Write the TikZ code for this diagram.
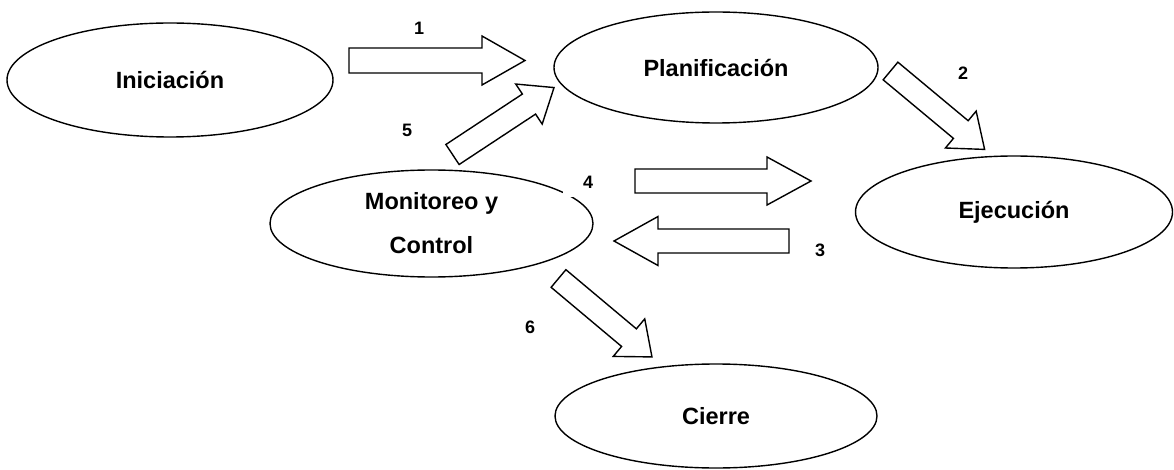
\documentclass[tikz,border=0pt]{standalone}
\usepackage{fontspec}
\setmainfont{Liberation Sans}
\usetikzlibrary{shapes.geometric}
% block arrow: tail x, tail y, angle, total length, shaft width, head length, head width
\newcommand\blockarrow[7]{%
  \draw[blockarr, shift={(#1,#2)}, rotate=#3]
    (0,-#5/2) -- (#4-#6,-#5/2) -- (#4-#6,-#7/2) -- (#4,0)
    -- (#4-#6,#7/2) -- (#4-#6,#5/2) -- (0,#5/2) -- cycle;}
\tikzset{
  phase/.style={ellipse, draw, line width=1.4pt, inner sep=0pt, fill=white,
    align=center, font=\fontsize{23.5}{44}\selectfont\bfseries},
  blockarr/.style={draw, line width=1.4pt, fill=white, line join=miter},
  num/.style={inner sep=0pt, font=\fontsize{18}{20}\selectfont\bfseries}
}
\begin{document}
\begin{tikzpicture}[x=1pt, y=-1pt]
\useasboundingbox (0,0) rectangle (1174,470);

% project phases
\node[phase, minimum width=326, minimum height=114] (ini) at (170,80) {Iniciación};
\node[phase, minimum width=324, minimum height=111] (plan) at (716,67.5) {Planificación};
\node[phase, minimum width=317, minimum height=112] (ejec) at (1014,212) {Ejecución};
\node[phase, minimum width=323, minimum height=107] (mon) at (431.5,223.5) {Monitoreo y\\Control};
\node[phase, minimum width=322, minimum height=104] (cie) at (716,416) {Cierre};

% transitions between phases
\blockarrow{349}{60.5}{0}{176}{25}{43}{49}
\blockarrow{890.5}{71}{-39.8}{122.5}{23}{31}{48}
\blockarrow{789}{241}{180}{175}{24}{44}{49}
\blockarrow{635}{181}{0}{176}{24}{44}{48}
\blockarrow{452.5}{154.5}{33.4}{121.6}{24}{30}{48}
\blockarrow{558.5}{278.5}{-40}{122}{23}{30}{49}

% step numbers
\node[num] (n1) at (419,28) {1};
\node[num] (n2) at (963,73) {2};
\node[num] (n3) at (820,250) {3};
\node[num, fill=white, minimum width=50, minimum height=30] (n4) at (588,182) {4};
\node[num] (n5) at (407,130) {5};
\node[num] (n6) at (530,327) {6};
\end{tikzpicture}
\end{document}
